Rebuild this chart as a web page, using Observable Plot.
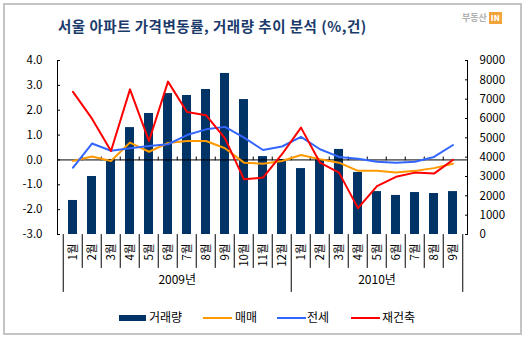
<!DOCTYPE html>
<html><head><meta charset="utf-8">
<script src="https://cdn.jsdelivr.net/npm/d3@7"></script>
<script src="https://cdn.jsdelivr.net/npm/@observablehq/plot@0.6"></script>
<style>
html,body{margin:0;padding:0;background:#fff;}
#wrap{position:relative;width:525px;height:338px;overflow:hidden;font-family:"Noto Sans CJK KR","Noto Sans",sans-serif;}
#wrap svg{position:absolute;left:0;top:0;overflow:visible;}
.frame{position:absolute;left:3px;top:3px;width:515px;height:328px;border:2px solid #c4c4c4;}
.title{position:absolute;left:58px;top:17px;font-size:14.5px;letter-spacing:0.5px;font-weight:bold;color:#1a3a6b;white-space:nowrap;line-height:18px;}
.logo{position:absolute;left:462px;top:11px;font-size:9px;font-weight:bold;color:#b0b0b0;white-space:nowrap;line-height:13px;}
.logo b{display:inline-block;background:#f2a33a;color:#fff;font-size:8px;padding:0 2px;margin-left:2px;line-height:12px;}
.lg{position:absolute;top:309px;font-size:12px;color:#000;white-space:nowrap;line-height:16px;}
.sw{position:absolute;}
</style></head>
<body>
<div id="wrap">
  <div class="frame"></div>
  <div class="title">서울 아파트 가격변동률, 거래량 추이 분석 (%,건)</div>
  <div class="logo">부동산<b>IN</b></div>
  <div class="sw" style="left:119px;top:315px;width:27px;height:6px;background:#003366"></div>
  <div class="lg" style="left:149px">거래량</div>
  <div class="sw" style="left:203px;top:317px;width:29px;height:2px;background:#ff9900"></div>
  <div class="lg" style="left:235px">매매</div>
  <div class="sw" style="left:277px;top:317px;width:29px;height:2px;background:#3366ff"></div>
  <div class="lg" style="left:307px">전세</div>
  <div class="sw" style="left:351px;top:317px;width:29px;height:2px;background:#ff0000"></div>
  <div class="lg" style="left:382px">재건축</div>
</div>
<script>
// ---- data ----
const months = ["1월","2월","3월","4월","5월","6월","7월","8월","9월","10월","11월","12월",
                "1월","2월","3월","4월","5월","6월","7월","8월","9월"];
const years = ["2009년", "2010년"];
const yearCounts = [12, 9];
const volume  = [1760, 3000, 3880, 5530, 6260, 7290, 7190, 7500, 8330, 6980, 4030,
                 3880, 3410, 3880, 4400, 3210, 2220, 2020, 2170, 2120, 2220];
const sale    = [-0.04, 0.14, -0.04, 0.70, 0.33, 0.68, 0.76, 0.76, 0.47, -0.11, -0.15,
                 -0.04, 0.20, 0.03, -0.11, -0.44, -0.44, -0.51, -0.44, -0.33, -0.15];
const jeonse  = [-0.31, 0.66, 0.37, 0.47, 0.56, 0.63, 1.00, 1.23, 1.33, 0.90, 0.40,
                 0.54, 0.93, 0.43, 0.12, 0.05, -0.07, -0.11, -0.07, 0.12, 0.60];
const rebuild = [2.74, 1.66, 0.36, 2.84, 0.76, 3.15, 1.93, 1.80, 0.87, -0.78, -0.71,
                 0.23, 1.30, -0.11, -0.51, -1.94, -1.05, -0.68, -0.51, -0.55, 0.00];
const leftTicks = [-3, -2, -1, 0, 1, 2, 3, 4];
const rightTicks = [0, 1000, 2000, 3000, 4000, 5000, 6000, 7000, 8000, 9000];

// ---- layout ----
const W = 525, H = 338, mL = 57, mR = 58, mT = 60, mB = 104;
const step = (W - mL - mR) / months.length;
const yMin = -3, yMax = 4, vMax = 9000;
const toLeft = v => yMin + v / vMax * (yMax - yMin);

const idx = d3.range(months.length);
const rows = idx.map(i => ({i, volume: volume[i], sale: sale[i], jeonse: jeonse[i], rebuild: rebuild[i]}));
let start = 0;
const yearRows = years.map((y, k) => {
  const n = yearCounts[k];
  const r = {label: y, i: start + Math.floor(n / 2), dx: n % 2 === 0 ? -step / 2 : 0};
  start += n;
  return r;
});
const groupEdges = [0, yearCounts[0]];
const lastIdx = idx[idx.length - 1];

const tickUp = {draw(ctx, l) { ctx.moveTo(0, 0); ctx.lineTo(0, -l); }};
const tickDown = {draw(ctx, l) { ctx.moveTo(0, 0); ctx.lineTo(0, l); }};

const chart = Plot.plot({
  width: W, height: H,
  marginLeft: mL, marginRight: mR, marginTop: mT, marginBottom: mB,
  style: {fontFamily: '"Noto Sans CJK KR","Noto Sans",sans-serif', fontSize: "11.5px", color: "#000", background: "transparent", overflow: "visible"},
  x: {type: "band", domain: idx, paddingInner: 0.54, paddingOuter: 0.27},
  y: {domain: [yMin, yMax]},
  marks: [
    Plot.barY(rows, {x: "i", y1: d => toLeft(0), y2: d => toLeft(d.volume), fill: "#003366"}),
    Plot.ruleY([0], {stroke: "#000", strokeWidth: 1}),
    Plot.vector(idx.slice(1), {x: d => d, y: 0, length: 3, anchor: "start", dx: -step / 2, shape: tickUp, stroke: "#000", strokeWidth: 1}),
    Plot.line(rows, {x: "i", y: "sale", stroke: "#ff9900", strokeWidth: 2}),
    Plot.line(rows, {x: "i", y: "jeonse", stroke: "#3366ff", strokeWidth: 2}),
    Plot.line(rows, {x: "i", y: "rebuild", stroke: "#ff0000", strokeWidth: 2}),
    Plot.frame({anchor: "left", stroke: "#000"}),
    Plot.frame({anchor: "right", stroke: "#000"}),
    // month separators below the plot
    Plot.vector(idx.slice(1).filter(i => !groupEdges.includes(i)), {x: d => d, frameAnchor: "bottom", length: 33, anchor: "start", dx: -step / 2, shape: tickDown, stroke: "#000", strokeWidth: 1}),
    // year separators (longer)
    Plot.vector(groupEdges, {x: d => d, frameAnchor: "bottom", length: 57, anchor: "start", dx: -step / 2, shape: tickDown, stroke: "#000", strokeWidth: 1}),
    Plot.vector([lastIdx], {x: d => d, frameAnchor: "bottom", length: 57, anchor: "start", dx: step / 2, shape: tickDown, stroke: "#000", strokeWidth: 1}),
    Plot.axisY({anchor: "left", ticks: leftTicks, tickSize: -3, tickPadding: 18, tickFormat: d => d.toFixed(1), label: null}),
    Plot.axisY({anchor: "right", ticks: rightTicks.map(toLeft), tickSize: -3, tickPadding: 15,
      tickFormat: (d, k) => String(rightTicks[k]), label: null}),
    Plot.axisX({anchor: "bottom", tickSize: 0, tickRotate: -90, tickPadding: 9, tickFormat: i => months[i], label: null}),
    ...yearRows.map(r => Plot.text([r], {x: "i", dx: r.dx, text: "label", frameAnchor: "bottom", dy: 49, fontSize: 12}))
  ]
});
document.getElementById("wrap").appendChild(chart);
</script>
</body></html>
